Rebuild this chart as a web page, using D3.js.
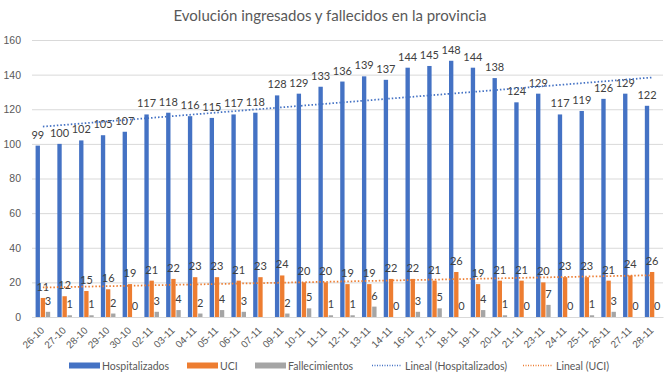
<!DOCTYPE html>
<html>
<head>
<meta charset="utf-8">
<script src="https://cdn.jsdelivr.net/npm/d3@7"></script>
<style>
  body { margin: 0; background: #fff; }
  svg { font-family: Lato, "Liberation Sans", Arial, sans-serif; }
</style>
</head>
<body>
<svg width="670" height="377"></svg>
<script>
const fechas = ["26-10","27-10","28-10","29-10","30-10","02-11","03-11","04-11","05-11","06-11",
  "07-11","09-11","10-11","11-11","12-11","13-11","14-11","16-11","17-11","18-11",
  "19-11","20-11","21-11","23-11","24-11","25-11","26-11","27-11","28-11"]
const hospitalizados = [99,100,102,105,107,117,118,116,115,117,118,128,129,133,136,139,137,144,145,148,
  144,138,124,129,117,119,126,129,122]
const uci = [11,12,15,16,19,21,22,23,23,21,23,24,20,20,19,19,22,22,21,26,19,21,21,20,23,23,21,24,26]
const fallecimientos = [3,1,1,2,0,3,4,2,4,3,null,2,5,1,1,6,0,3,5,0,4,1,0,7,0,1,3,0,0]
const yTicks = [0,20,40,60,80,100,120,140,160]

const series = [
  {key: "Hospitalizados", values: hospitalizados, color: "#4472C4"},
  {key: "UCI", values: uci, color: "#ED7D31"},
  {key: "Fallecimientos", values: fallecimientos, color: "#A5A5A5"}
]

const svg = d3.select("svg")
const margin = {left: 32, right: 7, top: 40, bottom: 60}
const width = 670 - margin.left - margin.right
const height = 377 - margin.top - margin.bottom

svg.append("text")
  .attr("x", 330).attr("y", 20.5)
  .attr("text-anchor", "middle")
  .style("font-size", "15px").style("fill", "#595959")
  .text("Evolución ingresados y fallecidos en la provincia")

const g = svg.append("g").attr("transform", `translate(${margin.left},${margin.top})`)

const x = d3.scaleBand().domain(fechas).range([0, width]).paddingInner(0.33).paddingOuter(0.165)
const xs = d3.scaleBand().domain(series.map(s => s.key)).range([0, x.bandwidth()]).paddingInner(0.15)
const y = d3.scaleLinear().domain([0, 160]).range([height, 0])

// grid + y axis
const yAxis = d3.axisLeft(y).tickValues(yTicks).tickSize(-width).tickPadding(11)
g.append("g").call(yAxis)
  .call(a => a.select(".domain").remove())
  .call(a => a.selectAll("line").attr("stroke", "#D9D9D9"))
  .call(a => a.selectAll("text").style("font-size", "10.5px").style("fill", "#595959").style("font-family", null))

// x axis
const xAxis = d3.axisBottom(x).tickSize(0).tickPadding(0)
g.append("g").attr("transform", `translate(0,${height})`).call(xAxis)
  .call(a => a.select(".domain").attr("stroke", "#D9D9D9"))
  .call(a => a.selectAll("text")
    .style("font-size", "10px").style("fill", "#595959").style("font-family", null)
    .attr("text-anchor", "end")
    .attr("dy", null)
    .attr("transform", "translate(2,14) rotate(-45)"))

// bars
series.forEach(s => {
  const gs = g.append("g")
  const pts = fechas.map((f, i) => ({f, v: s.values[i]})).filter(d => d.v !== null)
  gs.selectAll("rect").data(pts).enter().append("rect")
    .attr("x", d => x(d.f) + xs(s.key))
    .attr("width", xs.bandwidth())
    .attr("y", d => y(d.v))
    .attr("height", d => height - y(d.v))
    .attr("fill", s.color)
  gs.selectAll("text").data(pts).enter().append("text")
    .attr("x", d => x(d.f) + xs(s.key) + xs.bandwidth() / 2)
    .attr("y", d => y(d.v) - 7)
    .attr("text-anchor", "middle")
    .style("font-size", "11px").style("fill", "#404040")
    .text(d => d.v)
})

// linear trend lines
function trend(vals) {
  const n = vals.length
  const xm = d3.mean(vals, (v, i) => i)
  const ym = d3.mean(vals)
  let num = 0, den = 0
  vals.forEach((v, i) => { num += (i - xm) * (v - ym); den += (i - xm) * (i - xm) })
  const b = num / den, a = ym - b * xm
  return [0, n - 1].map(i => [i, a + b * i])
}
const cx = i => x(fechas[i]) + x.bandwidth() / 2
const line = d3.line().x(d => cx(d[0])).y(d => y(d[1]))
g.append("path").attr("d", line(trend(hospitalizados)))
  .attr("fill", "none").attr("stroke", "#4472C4").attr("stroke-width", 1.75).attr("stroke-dasharray", "1.5,2")
g.append("path").attr("d", line(trend(uci)))
  .attr("fill", "none").attr("stroke", "#ED7D31").attr("stroke-width", 1.75).attr("stroke-dasharray", "1.5,2")

// legend
const legend = [
  {label: "Hospitalizados", color: "#4472C4", type: "rect", x: 69},
  {label: "UCI", color: "#ED7D31", type: "rect", x: 187},
  {label: "Fallecimientos", color: "#A5A5A5", type: "rect", x: 255},
  {label: "Lineal (Hospitalizados)", color: "#4472C4", type: "line", x: 372},
  {label: "Lineal (UCI)", color: "#ED7D31", type: "line", x: 523}
]
const lg = svg.append("g").attr("transform", "translate(0,365.5)")
legend.forEach(d => {
  if (d.type === "rect") {
    lg.append("rect").attr("x", d.x).attr("y", -3).attr("width", 31).attr("height", 6).attr("fill", d.color)
  } else {
    lg.append("line").attr("x1", d.x).attr("x2", d.x + 30).attr("y1", 0).attr("y2", 0)
      .attr("stroke", d.color).attr("stroke-width", 1.5).attr("stroke-dasharray", "1,1.5")
  }
  lg.append("text").attr("x", d.x + 33).attr("y", 4)
    .style("font-size", "10.5px").style("fill", "#595959").text(d.label)
})
</script>
</body>
</html>
